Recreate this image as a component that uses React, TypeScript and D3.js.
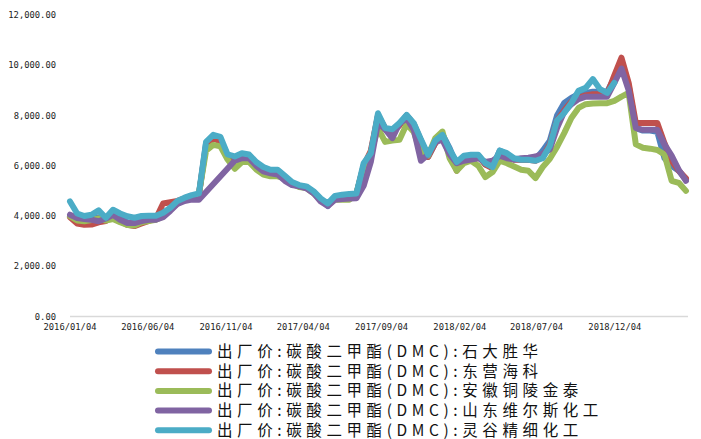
import * as d3 from 'd3';

// biweekly observation dates
const dates = [
  '2016-01-04', '2016-01-18', '2016-02-01', '2016-02-15', '2016-02-29', '2016-03-14', '2016-03-28', '2016-04-11', '2016-04-25', '2016-05-09',
  '2016-05-23', '2016-06-06', '2016-06-20', '2016-07-04', '2016-07-18', '2016-08-01', '2016-08-15', '2016-08-29', '2016-09-12', '2016-09-26',
  '2016-10-10', '2016-10-24', '2016-11-07', '2016-11-21', '2016-12-05', '2016-12-19', '2017-01-02', '2017-01-16', '2017-01-30', '2017-02-13',
  '2017-02-27', '2017-03-13', '2017-03-27', '2017-04-10', '2017-04-24', '2017-05-08', '2017-05-22', '2017-06-05', '2017-06-19', '2017-07-03',
  '2017-07-17', '2017-07-31', '2017-08-14', '2017-08-28', '2017-09-11', '2017-09-25', '2017-10-09', '2017-10-23', '2017-11-06', '2017-11-20',
  '2017-12-04', '2017-12-18', '2018-01-01', '2018-01-15', '2018-01-29', '2018-02-12', '2018-02-26', '2018-03-12', '2018-03-26', '2018-04-09',
  '2018-04-23', '2018-05-07', '2018-05-21', '2018-06-04', '2018-06-18', '2018-07-02', '2018-07-16', '2018-07-30', '2018-08-13', '2018-08-27',
  '2018-09-10', '2018-09-24', '2018-10-08', '2018-10-22', '2018-11-05', '2018-11-19', '2018-12-03', '2018-12-17', '2018-12-31', '2019-01-14',
  '2019-01-28', '2019-02-11', '2019-02-25', '2019-03-11', '2019-03-25', '2019-04-08', '2019-04-22',
];

const shidaValues = [
  4000, 3900, 3850, 3900, 3950, 3850, 4050, 3900, 3750, 3700,
  3800, 3850, 3900, 4050, 4300, 4550, 4700, 4800, 4850, 6900,
  7150, 7050, 6400, 6300, 6450, 6400, 6100, 5900, 5800, 5800,
  5550, 5300, 5200, 5150, 4950, 4650, 4400, 4750, 4800, 4850,
  4880, 6000, 6500, 8000, 7450, 7400, 7650, 8000, 7650, 7000,
  6350, 6900, 7250, 6700, 6000, 6350, 6400, 6400, 6050, 5950,
  6600, 6450, 6250, 6240, 6240, 6250, 6600, 7000, 8000, 8500,
  8700, 8850, 8900, 8950, 8950, 8950, 9500, 10200, 9200, 7500,
  7400, 7400, 7350, 6300, 6000, 5800, 5450,
];

const dongyingValues = [
  3950, 3700, 3650, 3660, 3750, 3800, 4000, 3800, 3650, 3600,
  3700, 3800, 3900, 4500, 4550, 4600, 4700, 4800, 4850, 6800,
  7100, 6950, 6400, 6300, 6450, 6400, 6100, 5900, 5800, 5800,
  5550, 5300, 5200, 5150, 4950, 4650, 4450, 4750, 4800, 4850,
  4900, 6000, 6600, 8000, 7500, 7350, 7600, 8000, 7650, 7000,
  6350, 6900, 7200, 6600, 5800, 6300, 6400, 6400, 6050, 5900,
  6550, 6450, 6250, 6240, 6240, 6200, 6350, 6850, 7800, 8200,
  8550, 8700, 8800, 8850, 8850, 8850, 9600, 10300, 9300, 7700,
  7700, 7700, 7700, 6900, 6200, 5800, 5500,
];

const tonglingValues = [
  3990, 3820, 3790, 3840, 3900, 3820, 3880, 3750, 3640, 3620,
  3750, 3800, 3850, 3980, 4250, 4500, 4650, 4780, 4900, 6600,
  6830, 6770, 6250, 5880, 6150, 6150, 5850, 5650, 5580, 5580,
  5500, 5280, 5150, 5110, 4900, 4640, 4450, 4650, 4650, 4650,
  4900, 5950, 6500, 7500, 6950, 7000, 7030, 7650, 7350, 6500,
  6400, 7100, 7360, 6300, 5800, 6100, 6200, 6000, 5550, 5750,
  6200, 6100, 5970, 5840, 5800, 5510, 5950, 6280, 6750, 7300,
  7900, 8300, 8450, 8480, 8490, 8490, 8580, 8750, 8900, 6850,
  6720, 6680, 6630, 6450, 5400, 5320, 5000,
];

// null = no quote that period (line bridges the gap)
const weiersiValues = [
  4050, 3920, 3880, 3850, 3790, 3900, 4050, 3850, 3720, 3720,
  3800, 3850, 3850, 3950, 4200, 4480, 4600, 4650, 4650, null,
  null, null, null, 6200, 6300, 6300, 6000, 5780, 5700, 5650,
  5400, 5230, 5180, 5100, 4910, 4580, 4400, 4650, 4680, 4700,
  4710, 5200, 6150, 7700, 7450, 7100, 7680, 7880, 7430, 6200,
  6450, 6950, 7030, 6450, 6100, 6200, 6250, 6300, 6150, 6200,
  6400, 6300, 6250, 6300, 6320, 6370, 6480, 6650, 7500, 8150,
  8450, 8650, 8750, 8750, 8750, 8750, 9300, 9870, 9000, 7500,
  7430, 7430, 7430, 6850, 6400, 5840, 5400,
];

const lingguValues = [
  4580, 4100, 4000, 4050, 4225, 3930, 4250, 4100, 3990, 3930,
  4000, 4010, 4010, 4130, 4330, 4600, 4730, 4830, 4900, 6950,
  7230, 7150, 6450, 6370, 6500, 6450, 6150, 5950, 5840, 5840,
  5600, 5350, 5230, 5180, 4990, 4700, 4500, 4800, 4850, 4880,
  4900, 6100, 6500, 8090, 7500, 7450, 7700, 8025, 7690, 7050,
  6440, 7000, 7230, 6650, 6150, 6400, 6440, 6440, 6100, 5950,
  6600, 6500, 6300, 6240, 6240, 6200, 6300, 6800, 7800, 8100,
  8500, 8980, 9100, 9450, 9050, 8900, 9300, null, null, null,
  null, null, null, null, null, null, null,
];

const seriesNames = [
  '出厂价:碳酸二甲酯(DMC):石大胜华',
  '出厂价:碳酸二甲酯(DMC):东营海科',
  '出厂价:碳酸二甲酯(DMC):安徽铜陵金泰',
  '出厂价:碳酸二甲酯(DMC):山东维尔斯化工',
  '出厂价:碳酸二甲酯(DMC):灵谷精细化工',
];
const seriesColors = ['#4F81BD', '#C0504D', '#9BBB59', '#8064A2', '#4BACC6'];
const seriesValues = [shidaValues, dongyingValues, tonglingValues, weiersiValues, lingguValues];

const xTickLabels = [
  '2016/01/04', '2016/06/04', '2016/11/04', '2017/04/04',
  '2017/09/04', '2018/02/04', '2018/07/04', '2018/12/04',
];
const yTicks = [0, 2000, 4000, 6000, 8000, 10000, 12000];

const W = 701;
const H = 439;

export default function App() {
  const parse = d3.timeParse('%Y-%m-%d');
  const parseTick = d3.timeParse('%Y/%m/%d');
  const dateObjs = dates.map((d) => parse(d) as Date);

  const x = d3
    .scaleTime()
    .domain([parse('2016-01-04') as Date, parse('2019-04-26') as Date])
    .range([70, 688]);
  const y = d3.scaleLinear().domain([0, 12000]).range([316.5, 15]);
  const fmt = d3.format(',.2f');

  const lineGen = d3
    .line<{ d: Date; v: number }>()
    .x((p) => x(p.d))
    .y((p) => y(p.v))
    .curve(d3.curveLinear);

  const tickFont = '"DejaVu Sans Mono", monospace';
  const cjkFont = '"Noto Sans CJK SC", "Noto Sans", sans-serif';

  return (
    <svg
      width={W}
      height={H}
      style={{ position: 'fixed', left: 0, top: 0, background: '#fff' }}
    >
      {/* Y tick labels */}
      {yTicks.map((t) => (
        <text
          key={`y-${t}`}
          x={56}
          y={y(t)}
          dy="0.35em"
          textAnchor="end"
          fontSize={8.8}
          fontFamily={tickFont}
          fill="#222"
        >
          {fmt(t)}
        </text>
      ))}

      {/* X axis line */}
      <line x1={70} x2={688} y1={316.5} y2={316.5} stroke="#d9d9d9" strokeWidth={1.5} />

      {/* X tick labels */}
      {xTickLabels.map((t) => (
        <text
          key={`x-${t}`}
          x={x(parseTick(t) as Date)}
          y={330}
          textAnchor="middle"
          fontSize={8.8}
          fontFamily={tickFont}
          fill="#222"
        >
          {t}
        </text>
      ))}

      {/* Series lines */}
      {seriesValues.map((vals, si) => {
        const pts = vals
          .map((v, i) => ({ d: dateObjs[i], v }))
          .filter((p) => p.v != null) as { d: Date; v: number }[];
        return (
          <path
            key={`s-${si}`}
            d={lineGen(pts) ?? undefined}
            fill="none"
            stroke={seriesColors[si]}
            strokeWidth={6}
            strokeLinejoin="round"
            strokeLinecap="round"
          />
        );
      })}

      {/* Legend */}
      {seriesNames.map((name, i) => {
        const cy = 351.5 + i * 19.7;
        return (
          <g key={`lg-${i}`}>
            <line
              x1={158}
              x2={209}
              y1={cy}
              y2={cy}
              stroke={seriesColors[i]}
              strokeWidth={6}
              strokeLinecap="round"
            />
            <text
              x={217}
              y={cy}
              dy="0.36em"
              fontSize={15.5}
              fontFamily={cjkFont}
              fill="#111"
              letterSpacing={4.6}
            >
              {name}
            </text>
          </g>
        );
      })}
    </svg>
  );
}
